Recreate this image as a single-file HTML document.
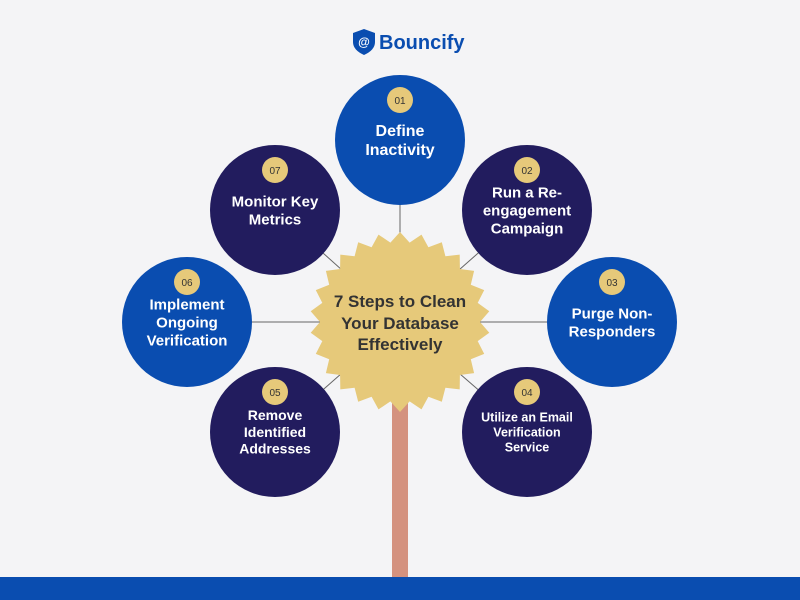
<!DOCTYPE html>
<html><head><meta charset="utf-8"><style>
body{margin:0;width:800px;height:600px;overflow:hidden;background:#f4f4f6;}
svg{display:block}
text{font-family:"Liberation Sans",Arial,sans-serif;font-weight:bold;}
</style></head><body>
<svg width="800" height="600" viewBox="0 0 800 600">
<rect width="800" height="600" fill="#f4f4f6"/>
<g stroke="#666" stroke-width="1">
<line x1="400" y1="322" x2="400" y2="140"/>
<line x1="400" y1="322" x2="527" y2="210"/>
<line x1="400" y1="322" x2="612" y2="322"/>
<line x1="400" y1="322" x2="527" y2="432"/>
<line x1="400" y1="322" x2="275" y2="432"/>
<line x1="400" y1="322" x2="187" y2="322"/>
<line x1="400" y1="322" x2="275" y2="210"/>
</g>
<rect x="392" y="400" width="16" height="180" fill="#d4927f"/>
<rect x="0" y="577" width="800" height="23" fill="#0a4db0"/>
<path d="M364 29 L375 33 L375 42 Q375 50 364 55 Q353 50 353 42 L353 33 Z" fill="#0a4db0"/>
<text x="364" y="46" font-size="12" fill="#fff" text-anchor="middle">@</text>
<text x="379" y="49" font-size="20" fill="#0a4db0">Bouncify</text>
<g id="circles"></g>
<polygon id="star" fill="#e6c97a"/>
<g fill="#333" font-size="17" text-anchor="middle">
<text x="400" y="307">7 Steps to Clean</text>
<text x="400" y="329">Your Database</text>
<text x="400" y="350">Effectively</text>
</g>
</svg>
<script>
var pts=[];for(var i=0;i<52;i++){var a=i*Math.PI/26-Math.PI/2;var r=i%2?80:90;pts.push((400+r*Math.cos(a)).toFixed(1)+","+(322+r*Math.sin(a)).toFixed(1));}
document.getElementById('star').setAttribute('points',pts.join(' '));
var B="#0a4db0",N="#221c5e";
var C=[[400,140,B,"01",["Define","Inactivity"],16],[527,210,N,"02",["Run a Re-","engagement","Campaign"],15],[612,322,B,"03",["Purge Non-","Responders"],15],[527,432,N,"04",["Utilize an Email","Verification","Service"],12.5],[275,432,N,"05",["Remove","Identified","Addresses"],14],[187,322,B,"06",["Implement","Ongoing","Verification"],15],[275,210,N,"07",["Monitor Key","Metrics"],15]];
var s="";C.forEach(function(c){var x=c[0],y=c[1];s+='<circle cx="'+x+'" cy="'+y+'" r="65" fill="'+c[2]+'"/>';
s+='<circle cx="'+x+'" cy="'+(y-40)+'" r="13" fill="#e6c97a"/><text x="'+x+'" y="'+(y-36)+'" font-size="10" style="font-weight:normal" fill="#333" text-anchor="middle">'+c[3]+'</text>';
var L=c[4],lh=c[5]*1.2,y0=y-(L.length-1)*lh/2+c[5]*0.35;
L.forEach(function(t,i){s+='<text x="'+x+'" y="'+(y0+i*lh).toFixed(1)+'" font-size="'+c[5]+'" fill="#fff" text-anchor="middle">'+t+'</text>';});});
document.getElementById('circles').innerHTML=s;
</script>
</body></html>
